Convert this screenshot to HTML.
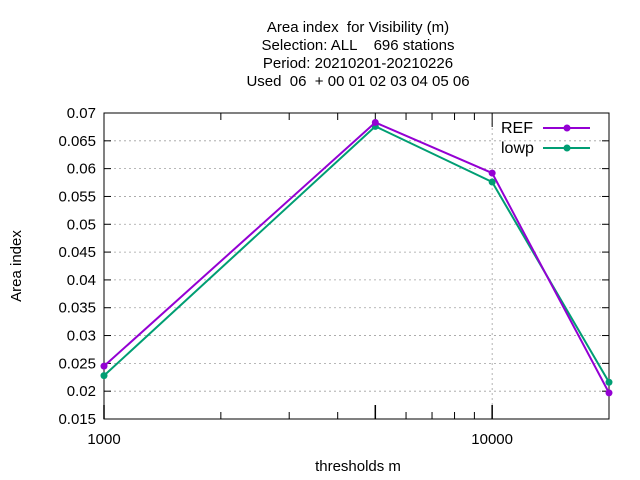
<!DOCTYPE html>
<html><head><meta charset="utf-8"><style>
body{margin:0;background:#fff}
svg{display:block;font-family:"Liberation Sans",sans-serif}
text{white-space:pre}
</style></head><body>
<svg id="c" width="640" height="480"></svg>
<script>
const categories=[1000,5000,10000,20000];
const refValues=[0.0245,0.0683,0.0592,0.0197];
const lowpValues=[0.0228,0.0676,0.0576,0.0216];
const yTicks=[0.015,0.02,0.025,0.03,0.035,0.04,0.045,0.05,0.055,0.06,0.065,0.07];
const yTickLabels=["0.015","0.02","0.025","0.03","0.035","0.04","0.045","0.05","0.055","0.06","0.065","0.07"];
const xTicks=[1000,10000];
const xTickLabels=["1000","10000"];
const L=104,R=609,T=113,B=419;
const xMin=1000,xMax=20000,yMin=0.015,yMax=0.07;
const sx=v=>L+(Math.log10(v)-Math.log10(xMin))/(Math.log10(xMax)-Math.log10(xMin))*(R-L);
const sy=v=>B-(v-yMin)/(yMax-yMin)*(B-T);
const svg=document.getElementById('c');
const NS='http://www.w3.org/2000/svg';
function mk(t,a,txt){const e=document.createElementNS(NS,t);for(const k in a)e.setAttribute(k,a[k]);if(txt!==undefined)e.textContent=txt;svg.appendChild(e);return e;}
yTicks.forEach((v,i)=>{const y=sy(v);
 if(i>0&&i<yTicks.length-1){const g=mk('line',{x1:L,x2:R,y1:y,y2:y,stroke:'#a0a0a0','stroke-dasharray':'2,3','stroke-width':0.8});
 }
 mk('line',{x1:L,x2:L+7,y1:y,y2:y,stroke:'#000'});mk('line',{x1:R,x2:R-7,y1:y,y2:y,stroke:'#000'});
 const t=mk('text',{x:L-8,y:y+5,'text-anchor':'end','font-size':15},yTickLabels[i]);
 
});
xTicks.forEach((v,i)=>{const x=sx(v);
 if(x>L&&x<R){const g=mk('line',{x1:x,x2:x,y1:T,y2:B,stroke:'#a0a0a0','stroke-dasharray':'2,3','stroke-width':0.8});
 }
 mk('line',{x1:x,x2:x,y1:B,y2:B-14,stroke:'#000','stroke-width':1.5});mk('line',{x1:x,x2:x,y1:T,y2:T+14,stroke:'#000'});
 const t=mk('text',{x:x,y:B+25,'text-anchor':'middle','font-size':15},xTickLabels[i]);
 
});
for(let d=1000;d<=10000;d*=10)for(let m=2;m<=9;m++){const v=d*m;if(v>=xMax)break;const x=sx(v);
 mk('line',{x1:x,x2:x,y1:B,y2:B-(m==5?14:7),stroke:'#000','stroke-width':m==5?1.5:1});mk('line',{x1:x,x2:x,y1:T,y2:T+7,stroke:'#000'});}
const fr=mk('rect',{x:L,y:T,width:R-L,height:B-T,fill:'none',stroke:'#000'});

function series(vals,color,name){
 const p=mk('polyline',{points:vals.map((v,i)=>sx(categories[i])+','+sy(v)).join(' '),fill:'none',stroke:color,'stroke-width':2});
 
 vals.forEach((v,i)=>{const c=mk('circle',{cx:sx(categories[i]),cy:sy(v),r:3.5,fill:color});
 });
}
series(lowpValues,'#009e73','lowp');
series(refValues,'#9400d3','ref');
[['REF','#9400d3',128],['lowp','#009e73',148]].forEach(([n,c,y])=>{
 const t=mk('text',{x:501,y:y+5,'text-anchor':'start','font-size':16},n);
 
 const l=mk('line',{x1:543,x2:590,y1:y,y2:y,stroke:c,'stroke-width':2});
 
 mk('circle',{cx:567,cy:y,r:3.5,fill:c});
});
const titles=["Area index  for Visibility (m)","Selection: ALL    696 stations","Period: 20210201-20210226","Used  06  + 00 01 02 03 04 05 06"];
titles.forEach((s,i)=>{const t=mk('text',{x:358,y:32+i*18,'text-anchor':'middle','font-size':15},s);
 });
const xt=mk('text',{x:358,y:471,'text-anchor':'middle','font-size':15},'thresholds m');

const yt=mk('text',{x:21,y:266,'text-anchor':'middle','font-size':15,transform:'rotate(-90 21 266)'},'Area index');

</script>
</body></html>
